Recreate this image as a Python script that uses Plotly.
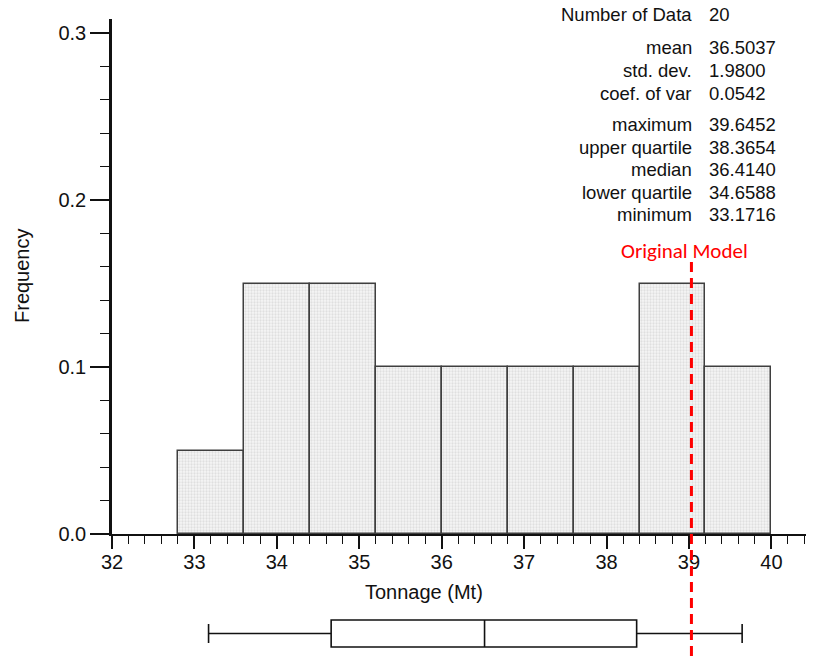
import plotly.graph_objects as go

# ---- data ----
bin_left = [32.8, 33.6, 34.4, 35.2, 36.0, 36.8, 37.6, 38.4, 39.2]
bin_width = 0.8
frequency = [0.05, 0.15, 0.15, 0.10, 0.10, 0.10, 0.10, 0.15, 0.10]

stat_labels = ["Number of Data", "mean", "std. dev.", "coef. of var",
               "maximum", "upper quartile", "median", "lower quartile", "minimum"]
stat_values = ["20", "36.5037", "1.9800", "0.0542",
               "39.6452", "38.3654", "36.4140", "34.6588", "33.1716"]

box_min = 33.1716
box_q1 = 34.6588
box_mid = 36.52      # line drawn inside the box
box_q3 = 38.3654
box_max = 39.6452

original_model = 39.03
x_ticks = [32, 33, 34, 35, 36, 37, 38, 39, 40]
y_ticks = [0.0, 0.1, 0.2, 0.3]

# ---- figure ----
W, H = 827, 657
ML, MR, MT, MB = 112, 21, 19, 0
PH = H - MT - MB
PW = W - ML - MR

def py(p):  # pixel y -> paper y
    return (H - MB - p) / PH

def px(p):  # pixel x -> paper x
    return (p - ML) / PW

FONT = "Liberation Sans, Arial, sans-serif"

fig = go.Figure()

centers = [l + bin_width / 2 for l in bin_left]
fig.add_trace(go.Bar(
    x=centers, y=frequency, width=[bin_width] * len(centers),
    marker=dict(color="#eeeeee",
                line=dict(color="#3f3f3f", width=1.5),
                pattern=dict(shape=".", fgcolor="#c9c9c9", bgcolor="#f5f5f5",
                             size=3, solidity=0.45)),
    xaxis="x", yaxis="y", showlegend=False, hoverinfo="skip",
))

fig.add_trace(go.Box(
    y=[0], q1=[box_q1], median=[box_mid], q3=[box_q3],
    lowerfence=[box_min], upperfence=[box_max],
    orientation="h", width=0.575, whiskerwidth=0.7,
    fillcolor="white", line=dict(color="#111111", width=1.6),
    boxpoints=False, xaxis="x2", yaxis="y2", showlegend=False, hoverinfo="skip",
))

x_range = [32, 40.42]
fig.update_layout(
    width=W, height=H,
    margin=dict(l=ML, r=MR, t=MT, b=MB, autoexpand=False),
    paper_bgcolor="white", plot_bgcolor="rgba(0,0,0,0)",
    bargap=0,
    font=dict(family=FONT, color="#111111"),
    xaxis=dict(
        range=x_range, anchor="y", domain=[0, 1],
        tickvals=x_ticks, ticktext=[str(t) for t in x_ticks],
        ticks="outside", ticklen=13, tickwidth=1.5, tickcolor="#111111",
        ticklabelstandoff=-4,
        minor=dict(dtick=0.2, tick0=32, ticks="outside", ticklen=8,
                   tickwidth=1.3, tickcolor="#111111", showgrid=False),
        showline=True, linecolor="#111111", linewidth=1.5,
        showgrid=False, zeroline=False,
        tickfont=dict(size=20, family=FONT, color="#111111"),
    ),
    yaxis=dict(
        range=[0, 0.3084], domain=[py(534), 1], anchor="x",
        tickvals=y_ticks, ticktext=["%.1f" % t for t in y_ticks],
        ticks="outside", ticklen=19, tickwidth=1.5, tickcolor="#111111",
        minor=dict(dtick=0.02, tick0=0, ticks="outside", ticklen=9,
                   tickwidth=1.3, tickcolor="#111111", showgrid=False),
        showline=True, linecolor="#111111", linewidth=2.5,
        showgrid=False, zeroline=False,
        tickfont=dict(size=20, family=FONT, color="#111111"),
    ),
    xaxis2=dict(range=x_range, anchor="y2", domain=[0, 1], visible=False),
    yaxis2=dict(range=[-0.5, 0.5], domain=[0, py(610)], anchor="x2", visible=False),
)

# axis titles
fig.add_annotation(text="Tonnage (Mt)", xref="paper", yref="paper",
                   x=px(424), y=py(592), showarrow=False,
                   xanchor="center", yanchor="middle",
                   font=dict(size=20, family=FONT, color="#111111"))
fig.add_annotation(text="Frequency", xref="paper", yref="paper",
                   x=px(22), y=py(276), showarrow=False, textangle=-90,
                   xanchor="center", yanchor="middle",
                   font=dict(size=20, family=FONT, color="#111111"))

# statistics block
row_y = [15, 48, 71, 93, 124, 147, 169, 192, 214]
for lab, val, ry in zip(stat_labels, stat_values, row_y):
    fig.add_annotation(text=lab, xref="paper", yref="paper",
                       x=px(694), y=py(ry), showarrow=False,
                       xanchor="right", yanchor="middle",
                       font=dict(size=18.5, family=FONT, color="#111111"))
    fig.add_annotation(text=val, xref="paper", yref="paper",
                       x=px(707), y=py(ry), showarrow=False,
                       xanchor="left", yanchor="middle",
                       font=dict(size=18.5, family=FONT, color="#111111"))

# original model marker
fig.add_shape(type="line", xref="x", yref="paper",
              x0=original_model, x1=original_model, y0=py(262), y1=py(660),
              line=dict(color="#ff0000", width=3, dash="10px,6px"))
fig.add_annotation(text="Original Model", xref="x", yref="paper",
                   x=original_model, y=py(251), xshift=-7, showarrow=False,
                   xanchor="center", yanchor="middle",
                   font=dict(size=21, family="Carlito, Lato, sans-serif", color="#ff0000"))

fig.write_html("out.html",
               config={"displayModeBar": False},
               post_script="document.body.style.margin='0';document.body.style.overflow='hidden';")
